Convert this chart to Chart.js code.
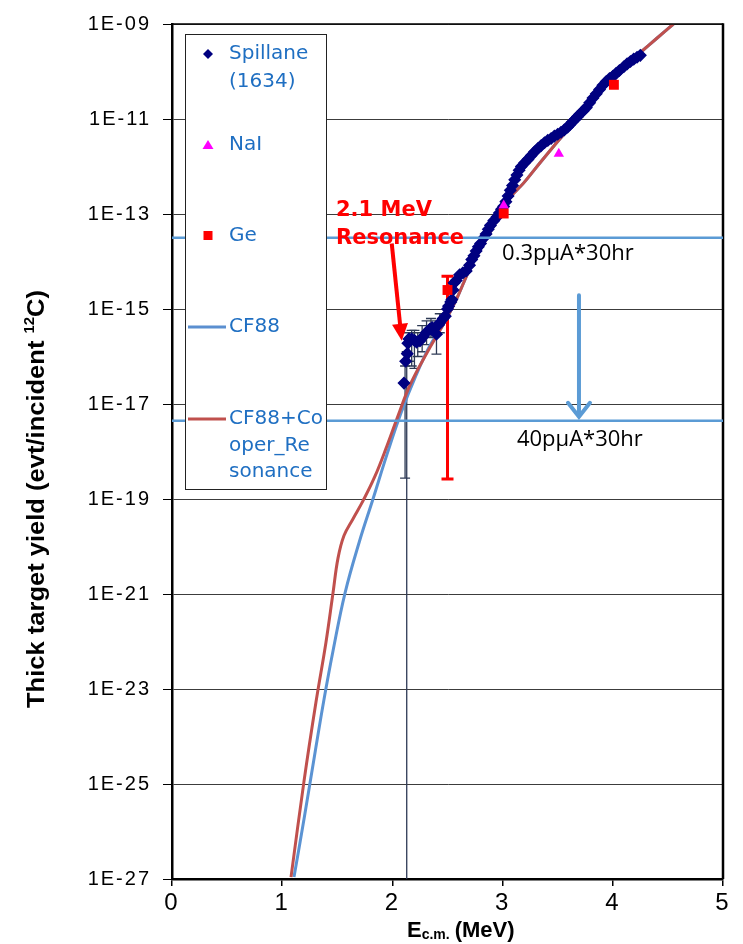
<!DOCTYPE html>
<html>
<head>
<meta charset="utf-8">
<script src="https://cdn.jsdelivr.net/npm/chart.js@4.4.0/dist/chart.umd.min.js"></script>
<style>
html, body { margin: 0; padding: 0; background: #fff; }
#wrap { width: 743px; height: 944px; }
</style>
</head>
<body>
<div id="wrap"><canvas id="chart" width="743" height="944"></canvas></div>
<script>
// values; yields kept as log10 exponents
const yTickValues = [1e-27, 1e-25, 1e-23, 1e-21, 1e-19, 1e-17, 1e-15, 1e-13, 1e-11, 1e-9];

const spillaneE = [2.105, 2.12, 2.135, 2.14, 2.15, 2.175, 2.20, 2.22, 2.25, 2.28, 2.31, 2.34, 2.36, 2.40, 2.42,
  2.43, 2.46, 2.48, 2.50, 2.51, 2.53, 2.54, 2.55, 2.56, 2.58, 2.61, 2.64, 2.67, 2.70, 2.72, 2.74, 2.76, 2.78,
  2.80, 2.83, 2.85, 2.87, 2.89, 2.92, 2.95, 2.97, 2.99, 3.01, 3.03, 3.05, 3.07, 3.09, 3.11, 3.13, 3.15, 3.17,
  3.20, 3.23, 3.26, 3.29, 3.32, 3.35, 3.38, 3.41, 3.44, 3.47, 3.50, 3.53, 3.56, 3.59, 3.61, 3.63, 3.66, 3.68,
  3.70, 3.73, 3.76, 3.79, 3.82, 3.85, 3.88, 3.91, 3.94, 3.97, 4.00, 4.03, 4.06, 4.10, 4.13, 4.16, 4.19, 4.22, 4.25];
const spillaneLogY = [-16.56, -16.10, -15.94, -15.72, -15.63, -15.63, -15.66, -15.70, -15.67, -15.58, -15.49, -15.42, -15.39, -15.53, -15.33,
  -15.29, -15.20, -15.15, -15.00, -14.94, -14.85, -14.80, -14.60, -14.45, -14.40, -14.28, -14.24, -14.20, -14.08, -13.96, -13.88, -13.78, -13.69,
  -13.62, -13.50, -13.42, -13.32, -13.24, -13.14, -13.06, -12.98, -12.90, -12.84, -12.74, -12.62, -12.50, -12.40, -12.28, -12.18, -12.08, -12.00,
  -11.92, -11.85, -11.77, -11.69, -11.62, -11.56, -11.50, -11.45, -11.41, -11.36, -11.32, -11.28, -11.23, -11.17, -11.12, -11.07, -11.00, -10.95,
  -10.90, -10.83, -10.76, -10.66, -10.56, -10.47, -10.38, -10.29, -10.21, -10.15, -10.10, -10.04, -9.98, -9.90, -9.84, -9.79, -9.74, -9.70, -9.66];

// Spillane error bars (log10 limits)
const spillaneErrE = [2.115, 2.13, 2.15, 2.175, 2.20, 2.23, 2.27, 2.31, 2.35, 2.40, 2.43];
const spillaneErrLo = [-18.56, -27, -16.10, -16.20, -16.25, -16.00, -15.90, -15.75, -15.60, -15.95, -15.50];
const spillaneErrHi = [-16.20, -15.90, -15.50, -15.45, -15.45, -15.50, -15.35, -15.25, -15.20, -15.25, -15.10];

const naiE = [3.01, 3.51];
const naiLogY = [-12.82, -11.73];

const geE = [2.50, 3.01, 4.01];
const geLogY = [-14.60, -12.99, -10.28];
const geErrLo = [-18.58, null, null];
const geErrHi = [-14.31, null, null];

const cf88E = [1.107, 1.200, 1.300, 1.380, 1.461, 1.570, 1.700, 1.824, 1.951, 2.078, 2.214, 2.341, 2.46, 2.58, 2.70,
  2.83, 2.95, 3.07, 3.19, 3.34, 3.49, 3.61, 3.73, 3.85, 4.00, 4.13, 4.25, 4.40, 4.55];
const cf88LogY = [-26.96, -25.71, -24.31, -23.21, -22.20, -20.98, -19.90, -19.00, -18.06, -17.19, -16.40, -15.77, -15.33, -14.80, -14.17,
  -13.62, -13.13, -12.65, -12.35, -11.92, -11.50, -11.17, -10.80, -10.45, -10.10, -9.84, -9.60, -9.30, -9.00];

const cooperE = [1.080, 1.198, 1.307, 1.397, 1.461, 1.506, 1.561, 1.642, 1.733, 1.842, 1.951, 2.051, 2.160, 2.314, 2.46, 2.58,
  2.70, 2.83, 2.95, 3.07, 3.19, 3.34, 3.49, 3.61, 3.73, 3.85, 4.00, 4.13, 4.25, 4.40, 4.55];
const cooperLogY = [-26.96, -24.94, -23.27, -22.02, -20.98, -20.25, -19.77, -19.42, -19.04, -18.52, -17.88, -17.25, -16.60, -15.92, -15.33, -14.80,
  -14.17, -13.62, -13.13, -12.65, -12.35, -11.92, -11.50, -11.17, -10.80, -10.45, -10.10, -9.84, -9.60, -9.30, -9.00];

// beam-time sensitivity limits (log10 yield)
const beamLimitLogY = [-13.5, -17.35];
const beamLabels = ["0.3pμA*30hr", "40pμA*30hr"];

function toPoints(xs, logs) {
  return xs.map((x, i) => ({ x: x, y: Math.pow(10, logs[i]) }));
}

const decor = {
  id: 'decor',
  beforeDraw(chart) {
    chart.ctx.letterSpacing = '2px';
  },
  beforeDatasetsDraw(chart) {
    const ctx = chart.ctx;
    ctx.letterSpacing = '0px';
    const xs = chart.scales.x, ys = chart.scales.y;
    const px = e => xs.getPixelForValue(e);
    const py = l => ys.getPixelForValue(Math.pow(10, l));
    const bottom = chart.chartArea.bottom;

    ctx.save();
    // Spillane error bars
    ctx.strokeStyle = '#2e3a55';
    ctx.lineWidth = 1.3;
    spillaneErrE.forEach((e, i) => {
      const x = px(e);
      const yl = Math.min(py(spillaneErrLo[i]), bottom);
      const yh = py(spillaneErrHi[i]);
      ctx.beginPath();
      ctx.moveTo(x, yl); ctx.lineTo(x, yh);
      ctx.moveTo(x - 5, yh); ctx.lineTo(x + 5, yh);
      if (yl < bottom) { ctx.moveTo(x - 5, yl); ctx.lineTo(x + 5, yl); }
      ctx.stroke();
    });
    // Ge error bars
    ctx.strokeStyle = '#ff0000';
    ctx.lineWidth = 3;
    geE.forEach((e, i) => {
      if (geErrLo[i] === null) return;
      const x = px(e), yl = py(geErrLo[i]), yh = py(geErrHi[i]);
      ctx.beginPath();
      ctx.moveTo(x, yl); ctx.lineTo(x, yh);
      ctx.moveTo(x - 6, yh); ctx.lineTo(x + 6, yh);
      ctx.moveTo(x - 6, yl); ctx.lineTo(x + 6, yl);
      ctx.stroke();
    });
    ctx.restore();
  },
  afterDatasetsDraw(chart) {
    const ctx = chart.ctx;
    const xs = chart.scales.x, ys = chart.scales.y;
    const a = chart.chartArea;
    const px = e => xs.getPixelForValue(e);
    const py = l => ys.getPixelForValue(Math.pow(10, l));

    ctx.save();
    // frame top/right
    ctx.strokeStyle = '#000';
    ctx.lineWidth = 1.5;
    ctx.beginPath();
    ctx.moveTo(a.left, a.top); ctx.lineTo(a.right, a.top);
    ctx.stroke();
    ctx.lineWidth = 2.5;
    ctx.beginPath();
    ctx.moveTo(a.right, a.top - 0.75); ctx.lineTo(a.right, a.bottom);
    ctx.stroke();

    // beam limit lines
    ctx.strokeStyle = '#5b9bd5';
    ctx.lineWidth = 2.5;
    beamLimitLogY.forEach(l => {
      ctx.beginPath();
      ctx.moveTo(a.left, py(l)); ctx.lineTo(a.right, py(l));
      ctx.stroke();
    });
    // blue arrow
    const bx = px(3.693), by0 = py(-14.71), by1 = py(-17.27);
    ctx.lineWidth = 4;
    ctx.lineCap = 'round';
    ctx.beginPath();
    ctx.moveTo(bx, by0); ctx.lineTo(bx, by1);
    ctx.moveTo(bx - 11, by1 - 14); ctx.lineTo(bx, by1); ctx.lineTo(bx + 11, by1 - 14);
    ctx.stroke();

    ctx.fillStyle = '#000';
    ctx.font = '22px "Open Sans"';
    ctx.textBaseline = 'middle';
    ctx.textAlign = 'left';
    ctx.fillText(beamLabels[0], px(2.995), py(-13.84));
    ctx.fillText(beamLabels[1], px(3.13), py(-17.75));

    // red annotation
    ctx.fillStyle = '#ff0000';
    ctx.font = 'bold 21px "DejaVu Sans"';
    ctx.fillText('2.1 MeV', px(1.488), py(-12.92));
    ctx.fillText('Resonance', px(1.488), py(-13.52));
    const ax0 = px(1.994), ay0 = py(-13.62), ax1 = px(2.085), ay1 = py(-15.67);
    const ang = Math.atan2(ay1 - ay0, ax1 - ax0);
    ctx.strokeStyle = '#ff0000';
    ctx.lineWidth = 4;
    ctx.lineCap = 'butt';
    ctx.beginPath();
    ctx.moveTo(ax0, ay0);
    ctx.lineTo(ax1 - 14 * Math.cos(ang), ay1 - 14 * Math.sin(ang));
    ctx.stroke();
    ctx.beginPath();
    ctx.moveTo(ax1, ay1);
    ctx.lineTo(ax1 - 17 * Math.cos(ang) + 8 * Math.sin(ang), ay1 - 17 * Math.sin(ang) - 8 * Math.cos(ang));
    ctx.lineTo(ax1 - 17 * Math.cos(ang) - 8 * Math.sin(ang), ay1 - 17 * Math.sin(ang) + 8 * Math.cos(ang));
    ctx.closePath();
    ctx.fill();

    // legend
    const L = 185, T = 34, R = 326, B = 489;
    ctx.fillStyle = '#fff';
    ctx.fillRect(L, T, R - L, B - T);
    ctx.strokeStyle = '#222';
    ctx.lineWidth = 1;
    ctx.strokeRect(L + 0.5, T + 0.5, R - L, B - T);
    const mx = 208, tx = 229;
    ctx.fillStyle = '#000080';
    ctx.beginPath();
    ctx.moveTo(mx, 49); ctx.lineTo(mx + 5, 54); ctx.lineTo(mx, 59); ctx.lineTo(mx - 5, 54);
    ctx.closePath(); ctx.fill();
    ctx.fillStyle = '#ff00ff';
    ctx.beginPath();
    ctx.moveTo(mx, 140); ctx.lineTo(mx + 5.5, 149); ctx.lineTo(mx - 5.5, 149);
    ctx.closePath(); ctx.fill();
    ctx.fillStyle = '#ff0000';
    ctx.fillRect(mx - 4.5, 231, 9, 9);
    ctx.lineWidth = 3;
    ctx.strokeStyle = '#5b8fd0';
    ctx.beginPath(); ctx.moveTo(188, 327); ctx.lineTo(226, 327); ctx.stroke();
    ctx.strokeStyle = '#c0504d';
    ctx.beginPath(); ctx.moveTo(188, 419); ctx.lineTo(226, 419); ctx.stroke();
    ctx.fillStyle = '#1f6fc2';
    ctx.font = '20px "DejaVu Sans", sans-serif';
    ctx.textBaseline = 'middle';
    [['Spillane', 54], ['(1634)', 82], ['NaI', 145], ['Ge', 236], ['CF88', 327],
     ['CF88+Co', 419], ['oper_Re', 446], ['sonance', 472]].forEach(t => ctx.fillText(t[0], tx, t[1]));

    // y axis title
    ctx.save();
    ctx.translate(44, 499);
    ctx.rotate(-Math.PI / 2);
    ctx.fillStyle = '#000';
    const main = 'Thick target yield (evt/incident ';
    const big = 'bold 24px "Liberation Sans", Arial, sans-serif';
    const small = 'bold 14px "Liberation Sans", Arial, sans-serif';
    ctx.font = big;
    const w1 = ctx.measureText(main).width;
    const w3 = ctx.measureText('C)').width;
    ctx.font = small;
    const w2 = ctx.measureText('12').width;
    const total = w1 + w2 + w3;
    const k = 418 / total;
    ctx.scale(k, 1);
    ctx.textBaseline = 'alphabetic';
    ctx.textAlign = 'left';
    let x0 = -total / 2;
    ctx.font = big; ctx.fillText(main, x0, 0);
    ctx.font = small; ctx.fillText('12', x0 + w1, -10);
    ctx.font = big; ctx.fillText('C)', x0 + w1 + w2, 0);
    ctx.restore();

    // x axis title
    ctx.fillStyle = '#000';
    ctx.textBaseline = 'alphabetic';
    ctx.textAlign = 'left';
    ctx.font = 'bold 22px "Liberation Sans", Arial, sans-serif';
    ctx.fillText('E', 407, 937);
    let xx = 407 + ctx.measureText('E').width;
    ctx.font = 'bold 14px "Liberation Sans", Arial, sans-serif';
    ctx.fillText('c.m.', xx, 939);
    xx += ctx.measureText('c.m.').width + 5;
    ctx.font = 'bold 22px "Liberation Sans", Arial, sans-serif';
    ctx.fillText('(MeV)', xx, 937);
    ctx.restore();
  }
};

new Chart(document.getElementById('chart'), {
  type: 'scatter',
  data: {
    datasets: [
      {
        label: 'Ge',
        data: toPoints(geE, geLogY),
        pointStyle: 'rect',
        pointRadius: 7,
        backgroundColor: '#ff0000',
        borderWidth: 0,
        order: 1
      },
      {
        label: 'NaI',
        data: toPoints(naiE, naiLogY),
        pointStyle: 'triangle',
        pointRadius: 6,
        backgroundColor: '#ff00ff',
        borderWidth: 0,
        order: 2
      },
      {
        label: 'Spillane (1634)',
        data: toPoints(spillaneE, spillaneLogY),
        pointStyle: 'rectRot',
        pointRadius: 5.5,
        backgroundColor: '#000080',
        borderColor: '#000080',
        borderWidth: 1.5,
        order: 3
      },
      {
        label: 'CF88+Cooper_Resonance',
        data: toPoints(cooperE, cooperLogY),
        showLine: true,
        pointRadius: 0,
        borderColor: '#c0504d',
        borderWidth: 3,
        tension: 0.4,
        order: 4
      },
      {
        label: 'CF88',
        data: toPoints(cf88E, cf88LogY),
        showLine: true,
        pointRadius: 0,
        borderColor: '#5b93d3',
        borderWidth: 3,
        tension: 0.4,
        order: 5
      }
    ]
  },
  options: {
    responsive: false,
    animation: false,
    events: [],
    layout: { padding: { left: 0, top: 15, right: 20, bottom: 0 } },
    plugins: { legend: { display: false }, tooltip: { enabled: false } },
    scales: {
      x: {
        type: 'linear',
        min: 0, max: 5,
        ticks: { stepSize: 1, color: '#000', padding: 3, font: { family: '"Liberation Sans", Arial, sans-serif', size: 24 } },
        grid: { drawOnChartArea: false, drawTicks: true, tickLength: 7, color: '#000', lineWidth: 1.5 },
        border: { display: true, color: '#000', width: 2.5 },
        afterFit: s => { s.height = 65; }
      },
      y: {
        type: 'logarithmic',
        min: 1e-27, max: 1e-9,
        afterBuildTicks: s => { s.ticks = yTickValues.map(v => ({ value: v })); },
        ticks: {
          color: '#000',
          padding: 12,
          font: { family: '"Liberation Sans", Arial, sans-serif', size: 20 },
          callback: v => '1E-' + String(-Math.round(Math.log10(v))).padStart(2, '0')
        },
        grid: { color: '#3c3c3c', lineWidth: 1, tickLength: 9, tickColor: '#000' },
        border: { display: true, color: '#000', width: 2.5 },
        afterFit: s => { s.width = 172; }
      }
    }
  },
  plugins: [decor]
});
</script>
</body>
</html>
